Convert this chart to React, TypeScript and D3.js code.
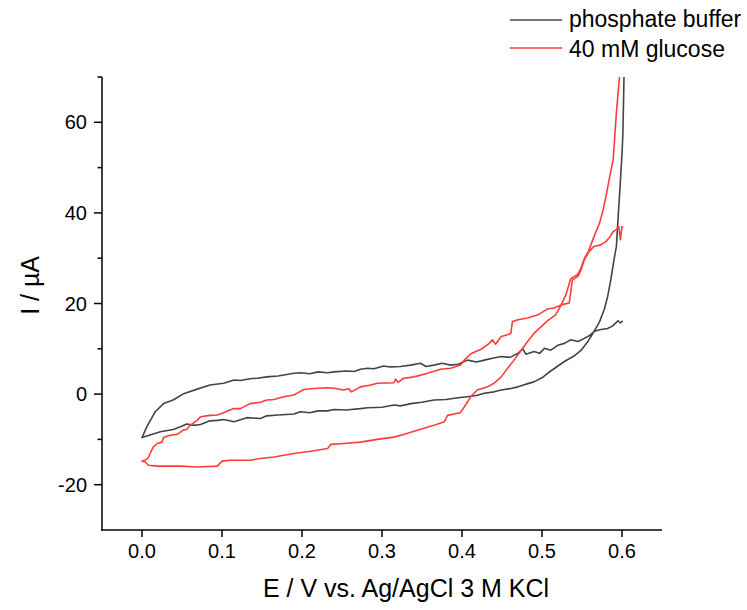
import React from "react";
import * as d3 from "d3";

// ---- data (E in V, I in µA) ----
const bufUpperE = [0.000,0.006,0.0165,0.027,0.039,0.052,0.069,0.085,0.102,0.115,0.123,0.135,0.144,0.156,0.17,0.19,0.198,0.21,0.22,0.232,0.24,0.255,0.265,0.273,0.282,0.29,0.302,0.31,0.323,0.336,0.348,0.355,0.365,0.375,0.386,0.395,0.407,0.418,0.428,0.438,0.449,0.46,0.47,0.476,0.48,0.49,0.497,0.503,0.511,0.52,0.528,0.536,0.545,0.553,0.56,0.565,0.572,0.582,0.588,0.595,0.598,0.601];
const bufUpperI = [-9.6,-7.2,-3.9,-2.1,-1.3,0.1,1.1,2.0,2.4,3.1,3.0,3.4,3.5,3.8,4.0,4.6,4.7,4.5,4.9,4.7,4.9,5.1,5.0,5.5,5.7,5.6,6.2,6.0,6.1,6.4,6.8,6.1,6.4,6.8,6.4,6.6,7.5,7.1,7.5,7.9,8.3,8.1,9.0,10.0,8.8,9.4,9.0,10.1,9.7,10.8,11.2,12.0,11.6,12.3,13.0,13.8,14.2,14.5,15.0,16.2,15.7,16.2];
const bufLowerE = [0.000,0.012,0.0228,0.039,0.048,0.056,0.065,0.073,0.085,0.094,0.102,0.115,0.119,0.131,0.148,0.156,0.17,0.19,0.198,0.21,0.22,0.232,0.24,0.255,0.273,0.282,0.3,0.315,0.323,0.336,0.35,0.365,0.38,0.395,0.407,0.418,0.428,0.44,0.449,0.46,0.47,0.48,0.49,0.5,0.507,0.515,0.528,0.54,0.549,0.558,0.565,0.572,0.578,0.582,0.586,0.59,0.593,0.5955,0.598,0.6,0.601,0.602,0.6025,0.603];
const bufLowerI = [-9.6,-8.9,-8.3,-7.8,-7.2,-6.6,-6.9,-6.7,-5.9,-5.8,-5.6,-6.1,-5.9,-5.2,-5.4,-4.8,-4.6,-4.4,-3.9,-4.1,-3.7,-3.7,-3.4,-3.5,-3.2,-3.0,-2.9,-2.4,-2.6,-2.1,-1.8,-1.3,-1.2,-0.8,-0.6,-0.3,0.2,0.5,0.9,1.2,1.6,2.2,2.7,3.6,4.6,5.6,7.2,8.4,9.7,11.8,13.8,16.0,18.8,21.5,25.2,29.7,32.6,40,47,53,57,65,70.3,78];

const gluUpperE = [0.000,0.004,0.008,0.012,0.014,0.019,0.025,0.027,0.035,0.044,0.052,0.056,0.06,0.069,0.073,0.085,0.094,0.098,0.11,0.115,0.123,0.135,0.148,0.156,0.165,0.177,0.19,0.198,0.202,0.219,0.232,0.24,0.252,0.258,0.262,0.273,0.286,0.294,0.315,0.317,0.32,0.327,0.336,0.34,0.357,0.373,0.386,0.398,0.403,0.411,0.424,0.434,0.438,0.442,0.449,0.457,0.461,0.463,0.47,0.482,0.495,0.507,0.515,0.524,0.534,0.538,0.545,0.549,0.553,0.559,0.565,0.574,0.58,0.584,0.589,0.593,0.596,0.598,0.6,0.601];
const gluUpperI = [-14.8,-14.6,-14.0,-12.4,-11.7,-10.9,-10.6,-9.6,-9.1,-8.9,-7.9,-7.8,-6.9,-5.8,-5.0,-4.7,-4.6,-4.4,-3.5,-3.2,-3.2,-2.1,-1.8,-1.3,-1.2,-0.6,-0.2,0.6,1.0,1.3,1.4,1.3,0.9,1.2,0.5,1.6,2.0,2.4,2.5,3.3,2.6,3.5,3.7,3.8,4.6,5.5,5.7,6.4,7.5,8.9,9.9,11.2,12.0,11.0,12.7,13.1,13.4,16.0,16.4,16.8,17.5,18.8,19.0,19.7,20.1,25.2,26.0,27.5,29.7,31.5,32.6,33.0,33.7,34.5,35.9,36.3,37.0,34.1,37.0,36.7];
const gluLowerE = [0.000,0.004,0.008,0.019,0.035,0.048,0.069,0.094,0.1,0.11,0.135,0.148,0.165,0.19,0.211,0.232,0.236,0.252,0.273,0.294,0.315,0.327,0.344,0.365,0.378,0.382,0.398,0.403,0.411,0.419,0.432,0.44,0.449,0.457,0.465,0.474,0.482,0.49,0.499,0.507,0.517,0.524,0.53,0.536,0.545,0.549,0.553,0.558,0.566,0.572,0.576,0.58,0.584,0.589,0.593,0.597,0.598];
const gluLowerI = [-14.8,-15.0,-15.7,-15.9,-15.9,-15.9,-16.1,-15.9,-14.8,-14.6,-14.6,-14.2,-13.9,-13.1,-12.6,-12.0,-11.1,-10.9,-10.6,-10.0,-9.5,-8.9,-8.0,-6.9,-6.1,-4.7,-4.1,-2.8,-0.6,0.9,1.6,2.4,3.8,5.7,7.5,9.7,11.6,13.4,14.9,16.2,17.5,19.7,22.0,25.5,26.5,28.0,30.0,31.5,35.2,37.8,40.4,43.7,47.4,51.8,62.2,70.3,75];

const xTicks = [0.0, 0.1, 0.2, 0.3, 0.4, 0.5, 0.6];
const yTicks = [-20, 0, 20, 40, 60];
const yMinorTicks = [-10, 10, 30, 50, 70];
const seriesNames = ["phosphate buffer", "40 mM glucose"];
const seriesColors = ["#444444", "#ff3b3b"];

type Pt = [number, number];
function loop(uE: number[], uI: number[], lE: number[], lI: number[]): Pt[] {
  const up: Pt[] = uE.map((e, k) => [e, uI[k]] as Pt).reverse();
  const low: Pt[] = lE.map((e, k) => [e, lI[k]] as Pt).slice(1);
  return up.concat(low);
}

export default function App() {
  const W = 747, H = 610;
  const left = 102, right = 662, top = 77, bottom = 530;
  const x = d3.scaleLinear().domain([-0.05, 0.65]).range([left, right]);
  const y = d3.scaleLinear().domain([-30, 70]).range([bottom, top]);
  const line = d3.line<Pt>().x(d => x(d[0])).y(d => y(d[1]));
  const series = [
    loop(bufUpperE, bufUpperI, bufLowerE, bufLowerI),
    loop(gluUpperE, gluUpperI, gluLowerE, gluLowerI),
  ];
  const font = "'Liberation Sans', Arial, sans-serif";
  return (
    <svg width={W} height={H} style={{ position: "absolute", left: 0, top: 0, background: "#fff" }} fontFamily={font}>
      <defs>
        <clipPath id="plotclip">
          <rect x={left} y={top} width={right - left} height={bottom - top} />
        </clipPath>
      </defs>
      <g clipPath="url(#plotclip)" fill="none" strokeWidth={1.6} strokeLinejoin="round">
        {series.map((s, k) => (
          <path key={k} d={line(s) || ""} stroke={seriesColors[k]} />
        ))}
      </g>
      {/* axes */}
      <g stroke="#000" strokeWidth={1.5}>
        <line x1={left} y1={top} x2={left} y2={bottom + 0.75} />
        <line x1={left - 0.75} y1={bottom} x2={right} y2={bottom} />
        {xTicks.map(t => (
          <line key={"xt" + t} x1={x(t)} x2={x(t)} y1={bottom} y2={bottom + 7} />
        ))}
        {yTicks.map(t => (
          <line key={"yt" + t} x1={left - 8} x2={left} y1={y(t)} y2={y(t)} />
        ))}
        {yMinorTicks.map(t => (
          <line key={"ym" + t} x1={left - 4.5} x2={left} y1={y(t)} y2={y(t)} />
        ))}
      </g>
      <g fontSize={20} fill="#000">
        {xTicks.map(t => (
          <text key={"xl" + t} x={x(t)} y={558} textAnchor="middle">{d3.format(".1f")(t)}</text>
        ))}
        {yTicks.map(t => (
          <text key={"yl" + t} x={87} y={y(t) + 7} textAnchor="end">{t}</text>
        ))}
      </g>
      <text x={(left + right) / 2 + 24} y={597} textAnchor="middle" fontSize={25}>E / V vs. Ag/AgCl 3 M KCl</text>
      <text transform={`translate(39, ${y(24)}) rotate(-90)`} textAnchor="middle" fontSize={25}>I / µA</text>
      {/* legend */}
      {seriesNames.map((n, k) => (
        <g key={n}>
          <line x1={510} x2={562} y1={20 + k * 28} y2={20 + k * 28} stroke={seriesColors[k]} strokeWidth={1.6} />
          <text x={569} y={27 + k * 30} fontSize={23}>{n}</text>
        </g>
      ))}
    </svg>
  );
}
